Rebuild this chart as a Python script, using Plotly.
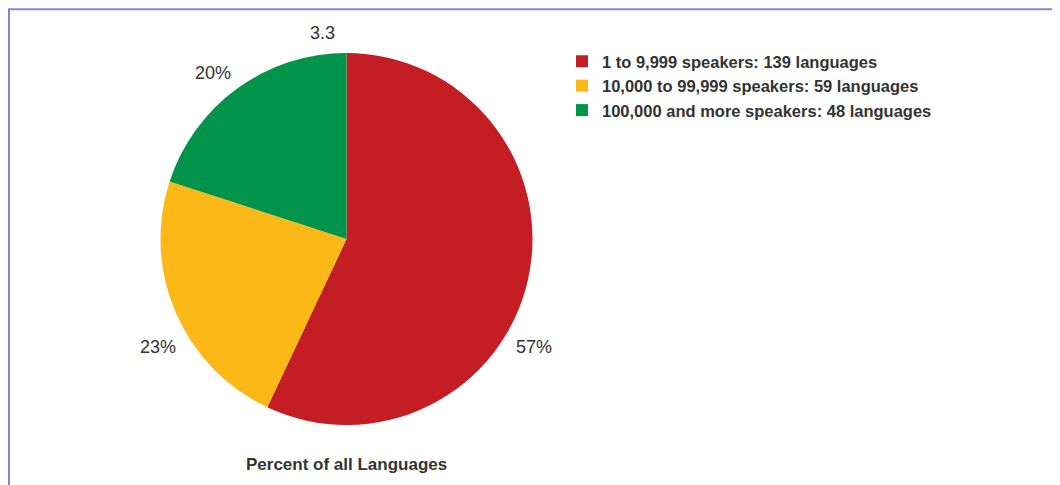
import plotly.graph_objects as go

# ---- data ----
categories = [
    "1 to 9,999 speakers: 139 languages",
    "10,000 to 99,999 speakers: 59 languages",
    "100,000 and more speakers: 48 languages",
]
percent_values = [57, 23, 20]
percent_labels = ["57%", "23%", "20%"]
extra_label = "3.3"
chart_title = "Percent of all Languages"

colors = ["#c41e24", "#fbb816", "#00944a"]

# page body has an 8px margin; figure sized to fit the window exactly
OFF = 8
W, H = 1060 - OFF, 485 - OFF
FONT = "Liberation Sans, Arial, Helvetica, sans-serif"


def px(x):
    return (x - OFF) / W


def py(y):
    return 1 - (y - OFF) / H


fig = go.Figure()
fig.add_trace(go.Pie(
    labels=["<b>" + c + "</b>" for c in categories],
    values=percent_values,
    sort=False,
    direction="clockwise",
    rotation=0,
    marker=dict(colors=colors, line=dict(width=0)),
    textinfo="none",
    hoverinfo="label+percent",
    domain=dict(x=[px(160), px(533)], y=[py(425), py(53)]),
))

label_pos = [(534, 347), (158, 347), (213, 73)]
annotations = []
for (x, y), t in zip(label_pos, percent_labels):
    annotations.append(dict(x=px(x), y=py(y), xref="paper", yref="paper",
                            text=t, showarrow=False, xanchor="center", yanchor="middle",
                            font=dict(size=18, color="#333333", family=FONT)))
annotations.append(dict(x=px(322), y=py(33), xref="paper", yref="paper",
                        text=extra_label, showarrow=False, xanchor="center", yanchor="middle",
                        font=dict(size=18, color="#333333", family=FONT)))
annotations.append(dict(x=px(346), y=py(464), xref="paper", yref="paper",
                        text="<b>" + chart_title + "</b>", showarrow=False, xanchor="center", yanchor="middle",
                        font=dict(size=17, color="#333333", family=FONT)))

BORDER = "#8b80c9"
shapes = [
    dict(type="line", xref="paper", yref="paper", x0=px(9), y0=0, x1=px(9), y1=py(9.3),
         line=dict(color=BORDER, width=2)),
    dict(type="line", xref="paper", yref="paper", x0=px(8), y0=py(9.3), x1=1, y1=py(9.3),
         line=dict(color=BORDER, width=2)),
]

fig.update_layout(
    width=W, height=H,
    margin=dict(l=0, r=0, t=0, b=0),
    paper_bgcolor="white",
    plot_bgcolor="white",
    showlegend=True,
    legend=dict(
        x=px(562), y=py(44), xanchor="left", yanchor="top",
        font=dict(size=16.5, color="#333333", family=FONT),
        bgcolor="rgba(0,0,0,0)",
        itemclick=False,
    ),
    annotations=annotations,
    shapes=shapes,
)

fig.write_html("out.html")
